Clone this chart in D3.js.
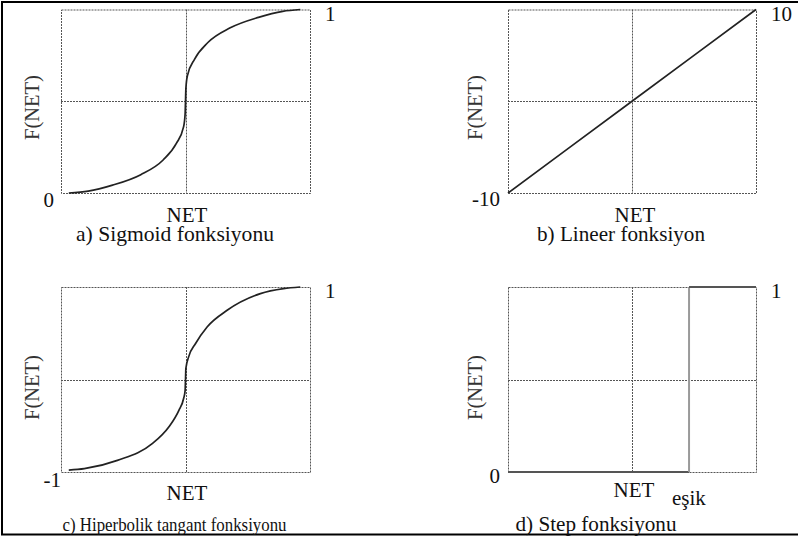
<!DOCTYPE html>
<html>
<head>
<meta charset="utf-8">
<script src="https://cdn.jsdelivr.net/npm/d3@7/dist/d3.min.js"></script>
<style>
  html, body { margin: 0; padding: 0; background: #fff; }
  svg { display: block; }
</style>
</head>
<body>
<svg id="chart" width="798" height="537"></svg>
<script>
// Activation functions: sampled NET / F(NET) values
const sigmoidNet = [-6.0, -5.0, -3.75, -2.3, -1.15, -0.47, -0.1, -0.02, 0, 0.02, 0.1, 0.47, 1.15, 2.3, 3.75, 5.0, 5.9];
const sigmoidF   = [0.0, 0.01, 0.043, 0.10, 0.18, 0.27, 0.36, 0.43, 0.5, 0.57, 0.64, 0.73, 0.82, 0.90, 0.957, 0.99, 1.0];

const linearNet = [-10, -5, 0, 5, 10];
const linearF   = [-10, -5, 0, 5, 10];

const tanhNet = [-6.0, -5.2, -3.5, -1.71, -0.86, -0.34, -0.09, -0.02, 0, 0.02, 0.17, 0.51, 1.11, 2.14, 3.85, 5.04, 5.9];
const tanhF   = [-0.98, -0.964, -0.874, -0.694, -0.514, -0.333, -0.2, -0.12, 0, 0.12, 0.25, 0.387, 0.568, 0.748, 0.928, 0.982, 1.0];

const stepThreshold = 4.6;
const stepNet = [-10, stepThreshold, stepThreshold, 10];
const stepF   = [0, 0, 1, 1];

const captions = ["a) Sigmoid fonksiyonu", "b) Lineer fonksiyon", "c) Hiperbolik tangant fonksiyonu", "d) Step fonksiyonu"];
const yMinLabels = ["0", "-10", "-1", "0"];
const yMaxLabels = ["1", "10", "1", "1"];
const xAxisTitle = "NET";
const yAxisTitle = "F(NET)";
const thresholdLabel = "eşik";

const FONT = '"Liberation Serif", "Times New Roman", serif';

const svg = d3.select("#chart");

// Outer frame (right edge runs past the page)
svg.append("rect")
  .attr("x", 2).attr("y", 2).attr("width", 810).attr("height", 532.5)
  .attr("fill", "none").attr("stroke", "#000").attr("stroke-width", 2);

const panels = [
  { x0: 61,  x1: 310, y0: 9.5, y1: 193, xd: [-6.4, 6.4], yd: [0, 1],
    net: sigmoidNet, f: sigmoidF, smooth: true,
    minPos: [54, 207], netPos: [187, 222], capPos: [175, 241], capWidth: 198, capSize: 21, yTitle: [38.5, 107.5] },
  { x0: 508, x1: 756, y0: 9.5, y1: 193, xd: [-10, 10], yd: [-10, 10],
    net: linearNet, f: linearF, smooth: false,
    minPos: [500, 206], netPos: [635, 222], capPos: [621, 241], capWidth: 168, capSize: 21, yTitle: [482, 107.5] },
  { x0: 61,  x1: 310, y0: 287, y1: 472, xd: [-6.4, 6.4], yd: [-1, 1],
    net: tanhNet, f: tanhF, smooth: true,
    minPos: [61, 487], netPos: [187, 500], capPos: [174.5, 531], capWidth: 224, capSize: 19, yTitle: [38.5, 387.5] },
  { x0: 508, x1: 756, y0: 287, y1: 472, xd: [-10, 10], yd: [0, 1],
    net: stepNet, f: stepF, step: true,
    minPos: [500, 483], netPos: [634, 497], capPos: [596, 531], capWidth: 161, capSize: 21, yTitle: [482, 387.5] }
];

function label(g, x, y, str, anchor, size) {
  return g.append("text")
    .attr("x", x).attr("y", y)
    .attr("text-anchor", anchor || "start")
    .style("font-family", FONT)
    .style("font-size", (size || 21) + "px")
    .attr("fill", "#111")
    .text(str);
}

panels.forEach((p, i) => {
  const x = d3.scaleLinear().domain(p.xd).range([p.x0, p.x1]);
  const y = d3.scaleLinear().domain(p.yd).range([p.y1, p.y0]);
  const g = svg.append("g");
  const yMid = (p.yd[0] + p.yd[1]) / 2;

  // dotted frame and centre cross-hair
  const grid = g.append("g")
    .attr("fill", "none").attr("stroke", "#555")
    .attr("stroke-width", 1).attr("stroke-dasharray", "2,1");
  grid.append("rect")
    .attr("x", x(p.xd[0]) + 0.5).attr("y", y(p.yd[1]) + 0.5)
    .attr("width", x(p.xd[1]) - x(p.xd[0]))
    .attr("height", y(p.yd[0]) - y(p.yd[1]));
  grid.append("line")
    .attr("x1", Math.round(x(0)) + 0.5).attr("x2", Math.round(x(0)) + 0.5)
    .attr("y1", y(p.yd[1])).attr("y2", y(p.yd[0]));
  grid.append("line")
    .attr("x1", x(p.xd[0])).attr("x2", x(p.xd[1]))
    .attr("y1", Math.round(y(yMid)) + 0.5).attr("y2", Math.round(y(yMid)) + 0.5);

  const pts = p.net.map((n, k) => [n, p.f[k]]);

  if (p.step) {
    // horizontal parts darker, rising edge lighter
    const seg = (a, b, color) => g.append("line")
      .attr("x1", x(a[0])).attr("y1", y(a[1]))
      .attr("x2", x(b[0])).attr("y2", y(b[1]))
      .attr("stroke", color).attr("stroke-width", 2);
    seg(pts[0], pts[1], "#555");
    seg(pts[1], pts[2], "#9a9a9a");
    seg(pts[2], pts[3], "#555");
    label(g, x(stepThreshold) - 17, 505, thresholdLabel);
  } else {
    const line = d3.line()
      .x(d => x(d[0])).y(d => y(d[1]))
      .curve(p.smooth ? d3.curveMonotoneX : d3.curveLinear);
    g.append("path")
      .datum(pts)
      .attr("d", line)
      .attr("fill", "none").attr("stroke", "#222").attr("stroke-width", 1.7);
  }

  // value labels at the extremes
  label(g, p.x1 + 15, y(p.yd[1]) + 11, yMaxLabels[i]);
  label(g, p.minPos[0], p.minPos[1], yMinLabels[i], "end");

  // axis titles
  label(g, p.netPos[0], p.netPos[1], xAxisTitle, "middle");
  label(g, 0, 0, yAxisTitle, "middle", 20.5)
    .attr("transform", `translate(${p.yTitle[0]},${p.yTitle[1]}) rotate(-90)`)
    .attr("fill", "#333");

  // caption, fitted to its printed width
  label(g, p.capPos[0], p.capPos[1], captions[i], "middle", p.capSize)
    .attr("textLength", p.capWidth)
    .attr("lengthAdjust", "spacingAndGlyphs");
});
</script>
</body>
</html>
